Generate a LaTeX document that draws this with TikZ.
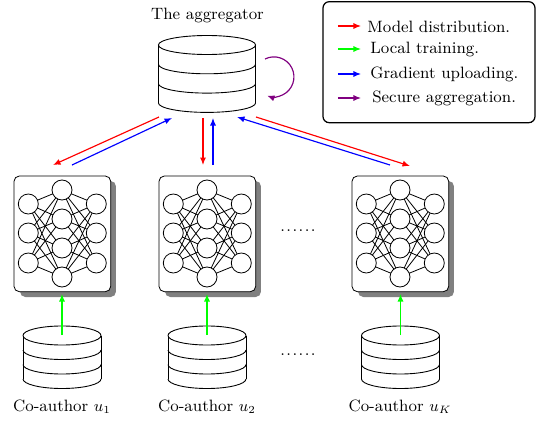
\documentclass[tikz,border=0pt]{standalone}
\usetikzlibrary{arrows.meta}
\definecolor{pureg}{rgb}{0,1,0}
\definecolor{purp}{rgb}{0.5,0,0.5}
\newcommand{\sixdots}{.\kern0.8pt.\kern0.8pt.\kern0.8pt.\kern0.8pt.\kern0.8pt.}
\tikzset{
  stroke/.style={line width=0.5pt},
  conn/.style={line width=0.65pt,-{Latex[length=4.2pt,width=3.4pt]}},
  neuron/.style={circle,draw,fill=white,inner sep=0pt,minimum size=11.2pt,line width=0.45pt},
  netbox/.style={draw,fill=white,rounded corners=3pt,line width=0.45pt},
  netshadow/.style={fill=black!50,rounded corners=3pt},
  legendbox/.style={draw,rounded corners=3.5pt,line width=0.7pt},
  captext/.style={inner sep=0pt,font=\fontsize{9.2}{11}\selectfont},
}
% centre x, top-ellipse centre y, x radius, y radius, level step
\newcommand{\dbstack}[5]{%
  \draw[stroke] (#1,#2) ellipse[x radius=#3,y radius=#4];
  \foreach \lv in {1,2,3}{
    \draw[stroke] ({#1-#3},{#2+\lv*#5}) arc[start angle=180,end angle=0,x radius=#3,y radius=#4];
  }
  \draw[stroke] ({#1-#3},#2) -- ({#1-#3},{#2+3*#5});
  \draw[stroke] ({#1+#3},#2) -- ({#1+#3},{#2+3*#5});
}
% offset x, name prefix
\newcommand{\nnet}[2]{%
  \fill[netshadow] ({#1+20},181) rectangle ({#1+116},297);
  \draw[netbox] ({#1+14},176) rectangle ({#1+110.7},291.7);
  \foreach \n/\py in {1/204,2/233,3/263}{ \coordinate (#2L\n) at ({#1+28.3},\py); \coordinate (#2R\n) at ({#1+96.3},\py); }
  \foreach \n/\py in {1/190,2/219,3/248,4/277}{ \coordinate (#2M\n) at ({#1+62},\py); }
  \foreach \a in {1,2,3}{\foreach \b in {1,2,3,4}{
    \draw[line width=0.45pt] (#2L\a) -- (#2M\b);
    \draw[line width=0.45pt] (#2R\a) -- (#2M\b);
  }}
  \foreach \a in {1,2,3}{ \node[neuron] at (#2L\a) {}; \node[neuron] at (#2R\a) {}; }
  \foreach \b in {1,2,3,4}{ \node[neuron] at (#2M\b) {}; }
}
\begin{document}
\begin{tikzpicture}[x=0.56pt,y=-0.56pt]
\useasboundingbox (0,0) rectangle (537,421);
% aggregator
\node[captext] (aggcap) at (207.5,15) {The aggregator};
\dbstack{207}{45}{48.6}{9.5}{19.3}
\coordinate (loopS) at (265,59);
\draw[conn,purp] (loopS) arc[start angle=-116.6,end angle=110,radius=20];
% networks
\nnet{0}{a}
\nnet{145}{b}
\nnet{338}{c}
% databases
\dbstack{62}{335.5}{39}{9.5}{14.5}
\dbstack{207}{335.5}{39}{9.5}{14.5}
\dbstack{400.5}{335.5}{39}{9.5}{14.5}
% connector ends
\coordinate (r1s) at (159,117); \coordinate (r1e) at (53,165);
\coordinate (b1s) at (72,165);  \coordinate (b1e) at (172,118);
\coordinate (r2s) at (203,118); \coordinate (r2e) at (203,165);
\coordinate (b2s) at (213,165); \coordinate (b2e) at (213,118);
\coordinate (b3s) at (390,165); \coordinate (b3e) at (237,117);
\coordinate (r3s) at (256,117); \coordinate (r3e) at (410,166);
\draw[conn,red] (r1s) -- (r1e);
\draw[conn,blue] (b1s) -- (b1e);
\draw[conn,red] (r2s) -- (r2e);
\draw[conn,blue] (b2s) -- (b2e);
\draw[conn,blue] (b3s) -- (b3e);
\draw[conn,red] (r3s) -- (r3e);
% training
\foreach \nm/\cx in {a/62,b/207,c/400.5}{
  \coordinate (\nm s) at (\cx,335);
  \coordinate (\nm e) at (\cx,294);
  \draw[conn,pureg] (\nm s) -- (\nm e);
}
% captions
\node[captext] (ca) at (62,407) {Co-author $u_1$};
\node[captext] (cb) at (207,407) {Co-author $u_2$};
\node[captext] (cc) at (400,407) {Co-author $u_K$};
\node[captext] (d1) at (298,231) {\sixdots};
\node[captext] (d2) at (298,355) {\sixdots};
% legend
\draw[legendbox] (323,1.7) rectangle (535,122.7);
\foreach \nm/\py/\col in {m/26/red,l/49/pureg,g/74/blue,s/98/purp}{
  \coordinate (\nm0) at (338,\py); \coordinate (\nm1) at (361,\py);
  \draw[conn,\col] (\nm0) -- (\nm1);
}
\node[captext,anchor=west] (lm) at (367,27) {Model distribution.};
\node[captext,anchor=west] (ll) at (370,49) {Local training.};
\node[captext,anchor=west] (lg) at (370,74) {Gradient uploading.};
\node[captext,anchor=west] (ls) at (372,98) {Secure aggregation.};
\end{tikzpicture}
\end{document}
